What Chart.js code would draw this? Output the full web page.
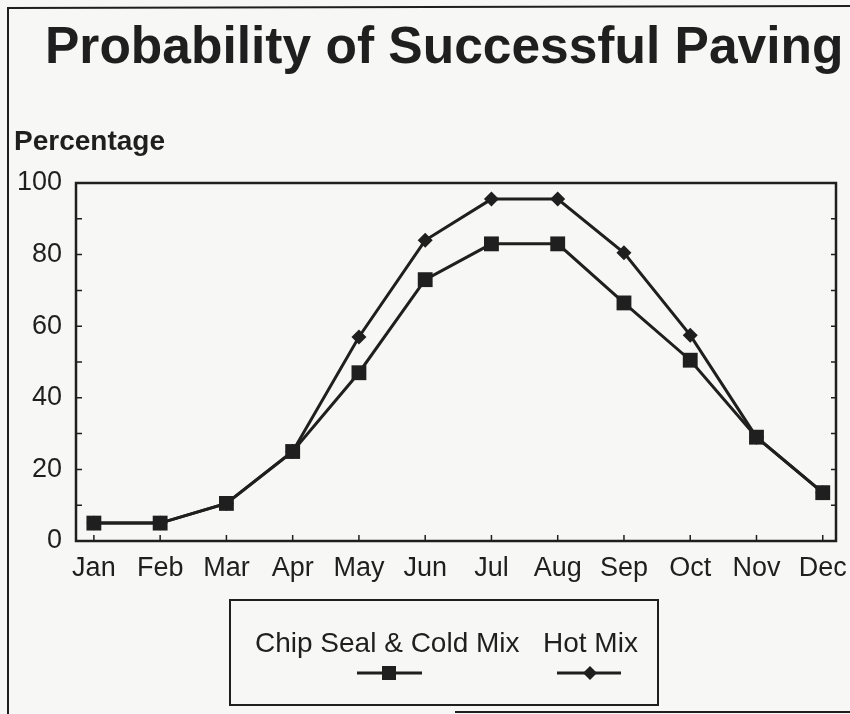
<!DOCTYPE html>
<html lang="en">
<head>
    <meta charset="UTF-8">
    <title>Probability of Successful Paving</title>
    <script src="https://cdn.jsdelivr.net/npm/chart.js"></script>
    <style>
        body {
            margin: 0;
            background-color: #f7f7f5;
        }

        .chart-wrap {
            position: relative;
            width: 850px;
            height: 714px;
        }
    </style>
</head>
<body>
    <div class="chart-wrap">
        <canvas id="pavingChart" width="850" height="714"></canvas>
    </div>

    <script>
        const months = ['Jan', 'Feb', 'Mar', 'Apr', 'May', 'Jun', 'Jul', 'Aug', 'Sep', 'Oct', 'Nov', 'Dec'];
        const chipSeal = [5, 5, 10.5, 25, 47, 73, 83, 83, 66.5, 50.5, 29, 13.5];
        const hotMix = [5, 5, 10.5, 25, 57, 84, 95.5, 95.5, 80.5, 57.5, 29, 13.5];
        const yTicks = [0, 20, 40, 60, 80, 100];
        const minorTicks = [10, 20, 30, 40, 50, 60, 70, 80, 90];

        const ink = '#1f1f1f';
        const font = "'Liberation Sans', Arial, sans-serif";

        // month index on a linear x axis so Jan sits a little in from the border
        const toPoints = vals => vals.map((v, i) => ({ x: i, y: v }));

        // frame, border, inner ticks, title and boxed legend
        const decor = {
            id: 'decor',
            beforeDatasetsDraw(chart) {
                const ctx = chart.ctx;
                const a = chart.chartArea;
                const x = chart.scales.x;
                const y = chart.scales.y;
                ctx.save();
                ctx.strokeStyle = ink;
                ctx.lineWidth = 1.5;
                minorTicks.forEach(v => {
                    const py = y.getPixelForValue(v);
                    ctx.beginPath();
                    ctx.moveTo(a.left, py);
                    ctx.lineTo(a.left + 6, py);
                    ctx.moveTo(a.right, py);
                    ctx.lineTo(a.right - 5, py);
                    ctx.stroke();
                });
                months.forEach((m, i) => {
                    const px = x.getPixelForValue(i);
                    ctx.beginPath();
                    ctx.moveTo(px, a.bottom);
                    ctx.lineTo(px, a.bottom - 6);
                    ctx.stroke();
                });
                ctx.lineWidth = 2.5;
                ctx.strokeRect(a.left, a.top, a.right - a.left, a.bottom - a.top);
                ctx.restore();
            },
            afterDraw(chart) {
                const ctx = chart.ctx;
                ctx.save();
                ctx.strokeStyle = ink;
                ctx.fillStyle = ink;

                // page frame
                ctx.lineWidth = 2;
                ctx.beginPath();
                ctx.moveTo(8, 714);
                ctx.lineTo(8, 8);
                ctx.lineTo(850, 6);
                ctx.moveTo(455, 712);
                ctx.lineTo(850, 712);
                ctx.stroke();

                ctx.textBaseline = 'alphabetic';
                ctx.textAlign = 'left';
                ctx.font = 'bold 51.5px ' + font;
                ctx.fillText('Probability of Successful Paving', 45, 63);

                ctx.font = 'bold 28px ' + font;
                ctx.fillText('Percentage', 14, 150);

                // legend box
                ctx.lineWidth = 2;
                ctx.strokeRect(230, 600, 428, 105);
                ctx.font = '28px ' + font;
                const items = [
                    { text: chart.data.datasets[0].label, tx: 255, cx: 389, x0: 357, x1: 422 },
                    { text: chart.data.datasets[1].label, tx: 543, cx: 590, x0: 557, x1: 621 }
                ];
                items.forEach((it, i) => {
                    ctx.fillText(it.text, it.tx, 652);
                    ctx.lineWidth = 3;
                    ctx.beginPath();
                    ctx.moveTo(it.x0, 673);
                    ctx.lineTo(it.x1, 673);
                    ctx.stroke();
                    if (i === 0) {
                        ctx.fillRect(it.cx - 7, 666, 14, 14);
                    } else {
                        ctx.beginPath();
                        ctx.moveTo(it.cx - 7, 673);
                        ctx.lineTo(it.cx, 666);
                        ctx.lineTo(it.cx + 7, 673);
                        ctx.lineTo(it.cx, 680);
                        ctx.closePath();
                        ctx.fill();
                    }
                });
                ctx.restore();
            }
        };

        new Chart(document.getElementById('pavingChart'), {
            type: 'line',
            data: {
                datasets: [{
                    label: 'Chip Seal & Cold Mix',
                    data: toPoints(chipSeal),
                    borderColor: ink,
                    backgroundColor: ink,
                    borderWidth: 3,
                    pointStyle: 'rect',
                    pointRadius: 10.5,
                    pointBorderWidth: 0,
                    tension: 0
                }, {
                    label: 'Hot Mix',
                    data: toPoints(hotMix),
                    borderColor: ink,
                    backgroundColor: ink,
                    borderWidth: 3,
                    pointStyle: 'rectRot',
                    pointRadius: 7.5,
                    pointBorderWidth: 0,
                    tension: 0
                }]
            },
            options: {
                responsive: false,
                animation: false,
                layout: {
                    padding: { left: 0, right: 14, top: 183, bottom: 0 }
                },
                plugins: {
                    legend: { display: false },
                    title: { display: false },
                    tooltip: { enabled: false }
                },
                scales: {
                    x: {
                        type: 'linear',
                        min: -0.27,
                        max: 11.2,
                        afterBuildTicks: s => { s.ticks = months.map((m, i) => ({ value: i })); },
                        afterFit: s => {
                            s.height = 173;
                            s.paddingLeft = 0;
                            s.paddingRight = 0;
                        },
                        ticks: {
                            autoSkip: false,
                            maxRotation: 0,
                            padding: 3,
                            color: ink,
                            font: { family: font, size: 27 },
                            callback: v => months[v]
                        },
                        grid: { display: false },
                        border: { display: false }
                    },
                    y: {
                        min: 0,
                        max: 100,
                        afterBuildTicks: s => { s.ticks = yTicks.map(v => ({ value: v })); },
                        afterFit: s => {
                            s.width = 76;
                            s.paddingTop = 0;
                            s.paddingBottom = 0;
                        },
                        ticks: {
                            padding: 6,
                            color: ink,
                            font: { family: font, size: 27 }
                        },
                        grid: { display: false },
                        border: { display: false }
                    }
                }
            },
            plugins: [decor]
        });
    </script>
</body>
</html>
